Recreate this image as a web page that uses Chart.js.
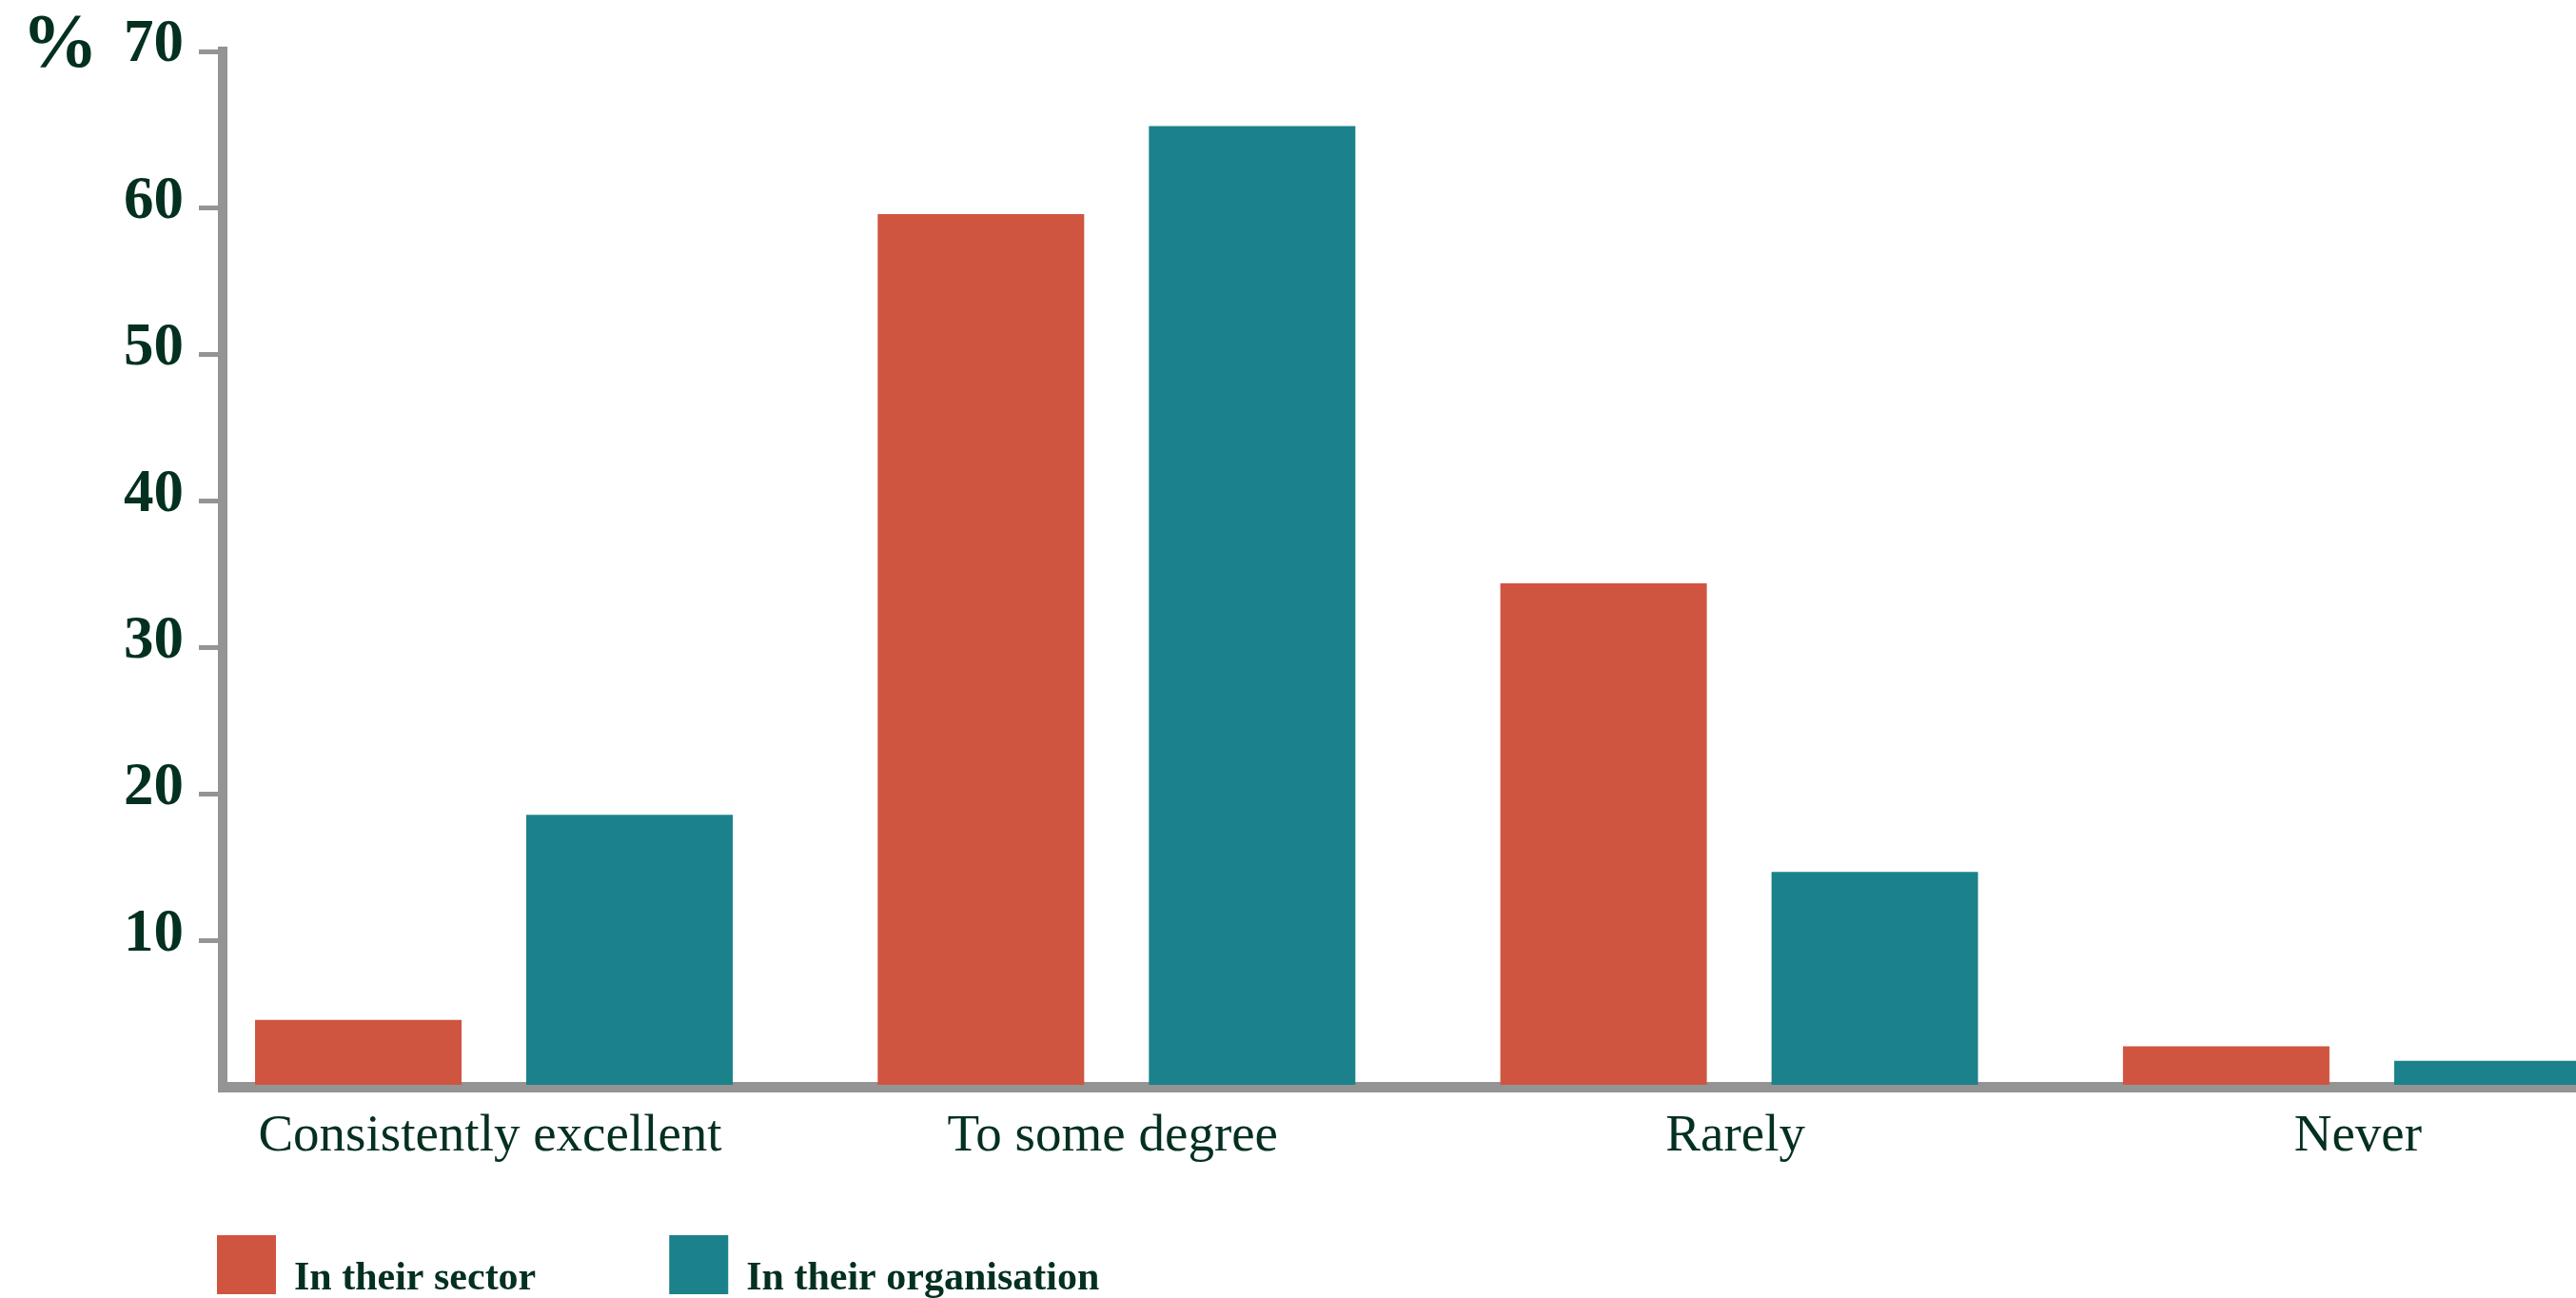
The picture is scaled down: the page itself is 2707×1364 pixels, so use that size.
<!DOCTYPE html>
<html>
<head>
<meta charset="utf-8">
<script src="https://cdn.jsdelivr.net/npm/chart.js@4/dist/chart.umd.min.js"></script>
<style>
  html, body { margin: 0; padding: 0; background: #ffffff; overflow: hidden; width: 2707px; height: 1364px; }
  canvas { display: block; }
</style>
</head>
<body>
<canvas id="chart" width="2707" height="1364"></canvas>
<script>
// Survey answers, share of respondents (%)
const categories = ['Consistently excellent', 'To some degree', 'Rarely', 'Never'];
const seriesNames = ['In their sector', 'In their organisation'];
const inTheirSector = [4.6, 59.6, 34.4, 2.8];
const inTheirOrganisation = [18.6, 65.6, 14.7, 1.8];

// Value axis: the top tick sits at the end of the axis line
const yTickValues = [0, 10, 20, 30, 40, 50, 60, 70.7];
const yTickLabels = ['', '10', '20', '30', '40', '50', '60', '70'];
const yAxisUnit = '%';

// Visible window on the category axis (category i sits at x = i)
const xWindow = [-0.4356, 3.344];

const RED = '#CF5541';
const TEAL = '#1B828B';
const GREY = '#949494';
const INK = '#04301F';
const SERIF = '"Liberation Serif", "Times New Roman", serif';

const toPoints = values => categories.map((c, i) => ({ x: i, y: values[i] }));

// The "%" unit written above the value axis
const unitLabel = {
  id: 'unitLabel',
  afterDraw(chart) {
    const c = chart.ctx;
    c.save();
    c.font = 'bold 80px ' + SERIF;
    c.fillStyle = INK;
    c.textAlign = 'left';
    c.textBaseline = 'alphabetic';
    c.fillText(yAxisUnit, 23, 70);
    c.restore();
  }
};

// Series key under the axis: a colour square followed by the series name
const seriesKey = {
  id: 'seriesKey',
  afterDraw(chart, args, opts) {
    const c = chart.ctx;
    c.save();
    c.font = 'bold ' + opts.fontSize + 'px ' + SERIF;
    c.textAlign = 'left';
    c.textBaseline = 'alphabetic';
    let x = opts.left;
    chart.data.datasets.forEach(ds => {
      c.fillStyle = ds.backgroundColor;
      c.fillRect(x, opts.top, opts.box, opts.box);
      c.fillStyle = opts.color;
      const tx = x + opts.box + opts.gap;
      c.fillText(ds.label, tx, opts.baseline);
      x = tx + c.measureText(ds.label).width + opts.spacing;
    });
    c.restore();
  }
};

new Chart(document.getElementById('chart'), {
  type: 'bar',
  data: {
    datasets: [
      {
        label: seriesNames[0],
        data: toPoints(inTheirSector),
        backgroundColor: RED,
        borderWidth: 0,
        categoryPercentage: 0.8711,
        barPercentage: 0.7614
      },
      {
        label: seriesNames[1],
        data: toPoints(inTheirOrganisation),
        backgroundColor: TEAL,
        borderWidth: 0,
        categoryPercentage: 0.8711,
        barPercentage: 0.7614
      }
    ]
  },
  options: {
    responsive: false,
    animation: false,
    devicePixelRatio: 1,
    layout: { padding: { left: 0, top: 54, right: 0, bottom: 0 } },
    scales: {
      x: {
        type: 'linear',
        offset: false,
        min: xWindow[0],
        max: xWindow[1],
        z: 1,
        afterFit: s => { s.height = 221.5; },
        afterBuildTicks: s => { s.ticks = categories.map((c, i) => ({ value: i })); },
        border: { display: true, color: GREY, width: 11 },
        grid: { display: false, drawTicks: false, offset: false },
        ticks: {
          autoSkip: false,
          maxRotation: 0,
          minRotation: 0,
          padding: 19,
          labelOffset: -4,
          color: INK,
          font: { family: SERIF, size: 55, weight: 'normal' },
          callback: (v, i) => categories[i]
        }
      },
      y: {
        type: 'linear',
        min: 0,
        max: yTickValues[yTickValues.length - 1],
        z: 1,
        afterFit: s => { s.width = 234; },
        afterBuildTicks: s => { s.ticks = yTickValues.map(v => ({ value: v })); },
        border: { display: true, color: GREY, width: 10 },
        grid: {
          display: true,
          drawOnChartArea: false,
          drawTicks: true,
          tickLength: 25,
          lineWidth: 5,
          tickWidth: 5,
          color: GREY,
          tickColor: ctx => (ctx.index === 0 ? 'rgba(0,0,0,0)' : GREY)
        },
        ticks: {
          padding: 16,
          labelOffset: -6,
          color: INK,
          font: { family: SERIF, size: 63, weight: 'bold' },
          callback: (v, i) => yTickLabels[i]
        }
      }
    },
    plugins: {
      legend: { display: false },
      tooltip: { enabled: false },
      seriesKey: {
        left: 228, top: 1298, box: 62, gap: 19, baseline: 1355,
        spacing: 140, fontSize: 42, color: INK
      }
    }
  },
  plugins: [unitLabel, seriesKey]
});
</script>
</body>
</html>
